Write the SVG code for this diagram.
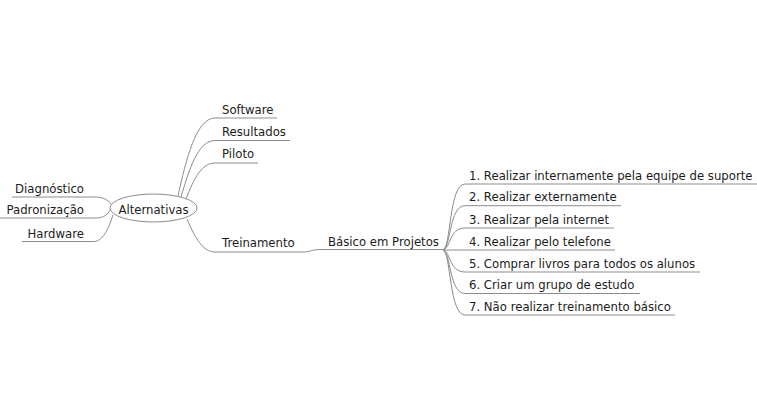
<svg xmlns="http://www.w3.org/2000/svg" width="757" height="417" viewBox="0 0 757 417">
<style>
text{font-family:"DejaVu Sans","Liberation Sans",sans-serif;font-size:11.7px;fill:#1c1c1c}
.c{fill:none;stroke:#8c8c8c;stroke-width:1}
.e{fill:#fff;stroke:#8c8c8c;stroke-width:1}
.r{text-anchor:end}
.m{text-anchor:middle}
</style>
<rect width="757" height="417" fill="#fff"/>
<g id="connectors">
<path class="c" d="M12,197 H94 C104,197 108,200 111,204"/>
<path class="c" d="M0,218 H96 C104,218 108,214 110,210"/>
<path class="c" d="M22,241.5 H94 C104,241.5 110,224 113,215"/>
<path class="c" d="M178,196 C186,160 196,118 215,118 H277"/>
<path class="c" d="M181,197 C189,170 198,140.5 215,140.5 H290"/>
<path class="c" d="M186,199 C194,178 202,163 215,163 H258"/>
<path class="c" d="M187,219 C195,238 203,252 215,252 H303 C310,252 312,249.5 320,249.5 H443"/>
<path class="c" d="M443,250 C451,248 449,184 465,184 H757"/>
<path class="c" d="M443,250 C451,248 449,205.7 465,205.7 H621"/>
<path class="c" d="M443,250 C451,248 449,228 465,228 H614"/>
<path class="c" d="M443,250 H615"/>
<path class="c" d="M443,250 C451,252 449,272 465,272 H700"/>
<path class="c" d="M443,250 C451,252 449,293.5 465,293.5 H640"/>
<path class="c" d="M443,250 C451,252 449,315 465,315 H675"/>
</g>
<g id="alternativas">
<ellipse class="e" cx="153.5" cy="208" rx="43.5" ry="14"/>
<text class="m" x="153.5" y="214">Alternativas</text>
</g>
<g id="diagnostico"><text class="r" x="84" y="192.5">Diagnóstico</text></g>
<g id="padronizacao"><text class="r" x="84" y="214">Padronização</text></g>
<g id="hardware"><text class="r" x="84" y="237.5">Hardware</text></g>
<g id="software"><text x="222" y="114">Software</text></g>
<g id="resultados"><text x="222" y="136">Resultados</text></g>
<g id="piloto"><text x="222" y="158">Piloto</text></g>
<g id="treinamento"><text x="222" y="247">Treinamento</text></g>
<g id="basico"><text x="328" y="245.5">Básico em Projetos</text></g>
<g id="item1"><text x="469" y="179.5">1. Realizar internamente pela equipe de suporte</text></g>
<g id="item2"><text x="469" y="201">2. Realizar externamente</text></g>
<g id="item3"><text x="469" y="223.5">3. Realizar pela internet</text></g>
<g id="item4"><text x="469" y="245.5">4. Realizar pelo telefone</text></g>
<g id="item5"><text x="469" y="267.5">5. Comprar livros para todos os alunos</text></g>
<g id="item6"><text x="469" y="289">6. Criar um grupo de estudo</text></g>
<g id="item7"><text x="469" y="310.5">7. Não realizar treinamento básico</text></g>
</svg>
